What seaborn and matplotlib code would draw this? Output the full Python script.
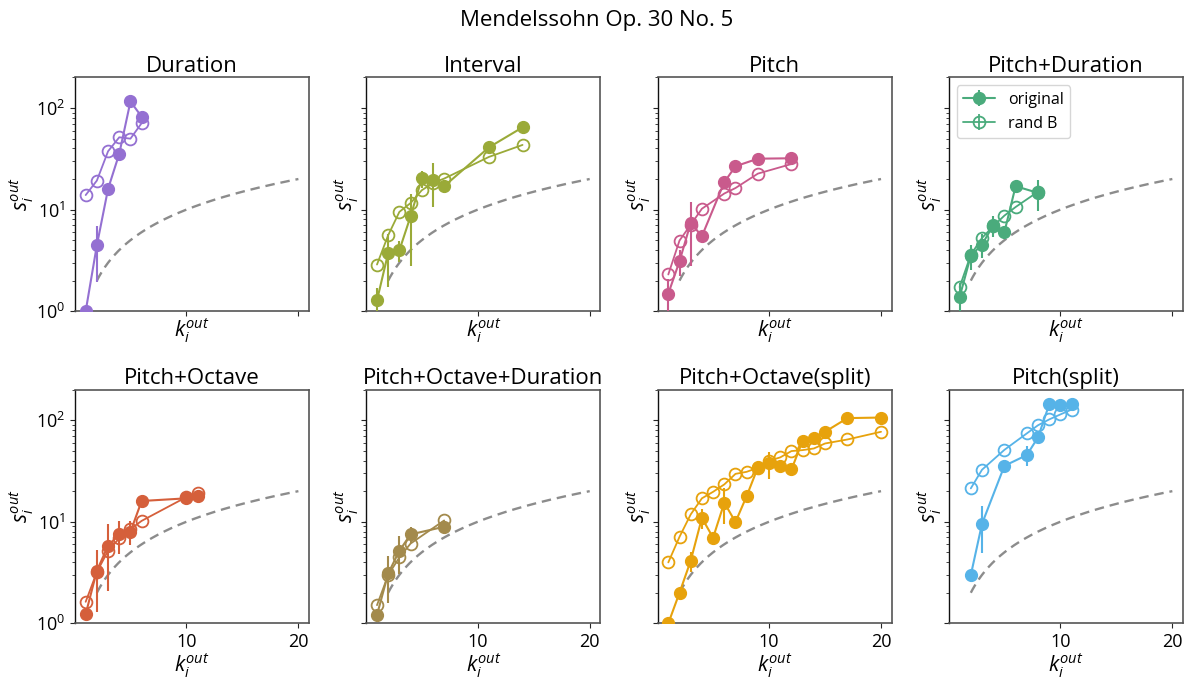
import numpy as np
import matplotlib
matplotlib.use("Agg")
import matplotlib.pyplot as plt
import seaborn as sns

sns.set_style("ticks")
plt.rcParams["font.family"] = ["Open Sans", "DejaVu Sans"]
plt.rcParams["mathtext.fontset"] = "custom"
plt.rcParams["mathtext.rm"] = "Open Sans"
plt.rcParams["mathtext.it"] = "Open Sans:italic"
for key in ["text.color", "axes.labelcolor", "xtick.labelcolor", "ytick.labelcolor"]:
    plt.rcParams[key] = "black"

suptitle = "Mendelssohn Op. 30 No. 5"
titles = ["Duration", "Interval", "Pitch", "Pitch+Duration",
          "Pitch+Octave", "Pitch+Octave+Duration", "Pitch+Octave(split)", "Pitch(split)"]
colors = ["#9470d2", "#9aaa38", "#c95a8c", "#4aab7c",
          "#d55f3b", "#a38a4c", "#e7a20c", "#56b3e8"]

# original network: out-degree k, mean out-strength s, error
dur_k = [1, 2, 3, 4, 5, 6]
dur_s = [1.0, 4.46, 16.0, 35.5, 116, 82]
dur_e = [0, 2.5, 0, 0, 0, 0]
dur_rk = [1, 2, 3, 4, 5, 6]
dur_rs = [13.9, 19.3, 37.5, 51.5, 49.9, 71]

int_k = [1, 2, 3, 4, 5, 6, 7, 11, 14]
int_s = [1.28, 3.75, 3.98, 8.6, 20.3, 19.7, 17.0, 41, 64.5]
int_e = [0.42, 2.0, 0.95, 5.8, 3.9, 9.0, 0, 0, 0]
int_rk = [1, 2, 3, 4, 5, 6, 7, 11, 14]
int_rs = [2.88, 5.6, 9.5, 11.6, 15.5, 18.3, 20.2, 33, 43.3]

pit_k = [1, 2, 3, 4, 6, 7, 9, 12]
pit_s = [1.49, 3.1, 7.4, 5.47, 18.6, 26.7, 31.7, 32]
pit_e = [0.6, 0.9, 4.6, 0, 0, 0, 0, 0]
pit_rk = [1, 2, 3, 4, 6, 7, 9, 12]
pit_rs = [2.3, 4.96, 7.1, 10.2, 14.4, 16.3, 22.6, 28.1]

pd_k = [1, 2, 3, 4, 5, 6, 8]
pd_s = [1.38, 3.53, 4.53, 7.0, 6.0, 17.0, 14.6]
pd_e = [0.5, 1.0, 1.2, 1.6, 0, 0, 4.9]
pd_rk = [1, 2, 3, 4, 5, 6, 8]
pd_rs = [1.73, 3.6, 5.26, 6.86, 8.73, 10.6, 15.0]

po_k = [1, 2, 3, 4, 5, 6, 10, 11]
po_s = [1.23, 3.3, 5.8, 7.5, 7.97, 16.0, 17.0, 18.0]
po_e = [0, 2.0, 3.7, 2.7, 2.1, 0, 0, 0]
po_rk = [1, 2, 3, 4, 5, 6, 10, 11]
po_rs = [1.63, 3.2, 5.18, 6.86, 8.47, 10.2, 17.5, 19.0]

pod_k = [1, 2, 3, 4, 7]
pod_s = [1.21, 3.1, 5.18, 7.5, 8.93]
pod_e = [0, 1.5, 2.1, 1.3, 0]
pod_rk = [1, 2, 3, 4, 7]
pod_rs = [1.51, 2.99, 4.46, 6.1, 10.3]

pos_k = [1, 2, 3, 4, 5, 6, 7, 8, 9, 10, 11, 12, 13, 14, 15, 17, 20]
pos_s = [1.0, 2.0, 4.13, 10.9, 6.96, 15.4, 9.93, 17.9, 34.2, 37.5, 35.3, 32.7,
         62.6, 67, 76.8, 104.7, 106]
pos_e = [0, 0, 0.9, 2.5, 0, 6.0, 0, 0, 0, 11.0, 0, 0, 0, 0, 0, 0, 0]
pos_rk = [1, 2, 3, 4, 5, 6, 7, 8, 9, 10, 11, 12, 13, 14, 15, 17, 20]
pos_rs = [3.98, 7.1, 11.8, 17.0, 19.7, 23.3, 29.6, 31.0, 34.0, 39.8, 43, 49.6,
          50.7, 52.6, 58.9, 64.5, 76.8]

ps_k = [2, 3, 5, 7, 8, 9, 10, 11]
ps_s = [2.99, 9.55, 35.5, 45.3, 67.6, 142.6, 141.6, 142.6]
ps_e = [0, 4.6, 0, 10.0, 0, 0, 0, 0]
ps_rk = [2, 3, 5, 7, 8, 9, 10, 11]
ps_rs = [21.3, 32.5, 51, 74, 89, 101.6, 113.8, 127]

panels = [
    (dur_k, dur_s, dur_e, dur_rk, dur_rs),
    (int_k, int_s, int_e, int_rk, int_rs),
    (pit_k, pit_s, pit_e, pit_rk, pit_rs),
    (pd_k, pd_s, pd_e, pd_rk, pd_rs),
    (po_k, po_s, po_e, po_rk, po_rs),
    (pod_k, pod_s, pod_e, pod_rk, pod_rs),
    (pos_k, pos_s, pos_e, pos_rk, pos_rs),
    (ps_k, ps_s, ps_e, ps_rk, ps_rs),
]

# reference line s = k
ref_k = np.linspace(2, 20, 200)

fig, axes = plt.subplots(2, 4, figsize=(11.93, 6.85), dpi=100, sharex=True, sharey=True)
fig.subplots_adjust(left=0.0629, right=0.9916, top=0.887, bottom=0.09,
                    wspace=0.245, hspace=0.335)

for ax, title, color, (k, s, e, rk, rs) in zip(axes.flat, titles, colors, panels):
    sns.lineplot(x=ref_k, y=ref_k, ax=ax, color="#8c8c8c", lw=1.7,
                 linestyle=(0, (4, 2.5)), zorder=1)
    ax.errorbar(k, s, yerr=e, fmt="-o", color=color, ms=8.5, lw=1.5,
                elinewidth=1.5, capsize=0, label="original", zorder=3)
    ax.errorbar(rk, rs, yerr=np.zeros(len(rs)), fmt="-o", color=color, ms=8.5,
                lw=1.3, mfc="none", mew=1.3, capsize=0, label="rand B", zorder=2)
    ax.set_yscale("log")
    ax.set_ylim(1, 200)
    ax.set_title(title, fontsize=16, pad=4)
    ax.set_xlabel(r"$k_i^{out}$", fontsize=15, labelpad=0)
    ax.set_ylabel(r"$s_i^{out}$", fontsize=15, labelpad=0)
    ax.tick_params(labelsize=13)
    for side in ["top", "right", "bottom"]:
        ax.spines[side].set_color("#555555")
        ax.spines[side].set_linewidth(1.2)
    ax.spines["left"].set_color("#111111")
    ax.spines["left"].set_linewidth(1.0)

axes[0, 0].set_xticks([10, 20])

for ax in axes.flat:
    ax.xaxis.label.set_visible(True)
    ax.yaxis.label.set_visible(True)

axes[0, 3].legend(loc="upper left", fontsize=11.5)
fig.suptitle(suptitle, fontsize=16, y=0.985)

fig.savefig("out.png", dpi=100)
